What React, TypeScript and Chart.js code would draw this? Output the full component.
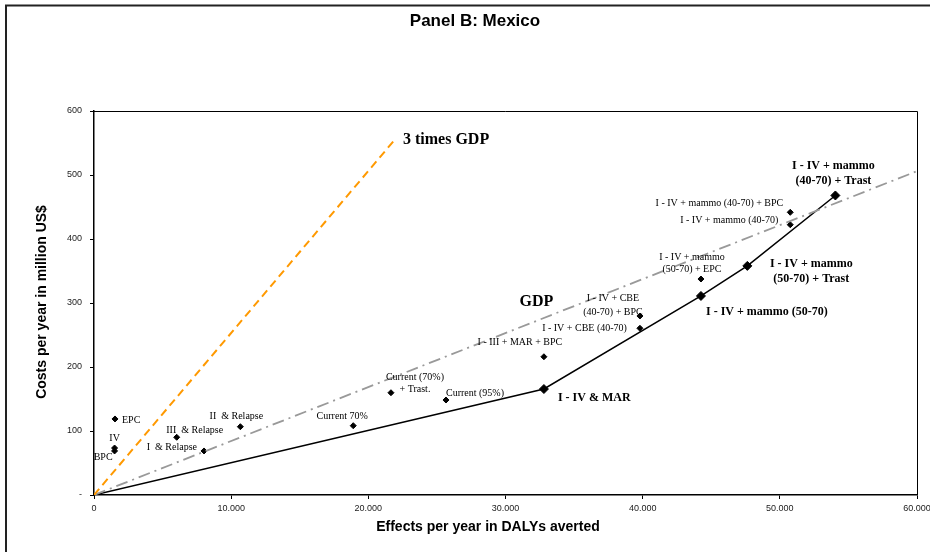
import React, { useEffect, useRef } from "react";
import { Chart, registerables } from "chart.js";

Chart.register(...registerables);

// ---- Data ----
const frontierNames = [
  "Origin",
  "I - IV & MAR",
  "I - IV + mammo (50-70)",
  "I - IV + mammo (50-70) + Trast",
  "I - IV + mammo (40-70) + Trast",
];
const frontierEffects = [0, 32800, 44250, 47630, 54050];
const frontierCosts = [0, 165.6, 311, 358, 468];

const otherNames = [
  "EPC",
  "IV",
  "BPC",
  "III & Relapse",
  "I & Relapse",
  "II & Relapse",
  "Current 70%",
  "Current (70%) + Trast.",
  "Current (95%)",
  "I - III + MAR + BPC",
  "I - IV + CBE (40-70) + BPC",
  "I - IV + CBE (40-70)",
  "I - IV + mammo (50-70) + EPC",
  "I - IV + mammo (40-70)",
  "I - IV + mammo (40-70) + BPC",
];
const otherEffects = [1530, 1500, 1500, 6030, 8020, 10670, 18900, 21650, 25660, 32800, 39800, 39800, 44250, 50760, 50760];
const otherCosts = [118.8, 73.4, 68.8, 90.2, 68.8, 106.7, 108.3, 159.8, 148.4, 216, 279.7, 260.5, 337.5, 422.3, 441.7];

const gdpEffects = [0, 60000];
const gdpCosts = [0, 506];
const gdp3Effects = [0, 22000];
const gdp3Costs = [0, 557];

const yTickValues = [0, 100, 200, 300, 400, 500, 600];
const yTickLabels = ["-", "100", "200", "300", "400", "500", "600"];
const xTickValues = [0, 10000, 20000, 30000, 40000, 50000, 60000];
const xTickLabels = ["0", "10.000", "20.000", "30.000", "40.000", "50.000", "60.000"];

const chartTitle = "Panel B: Mexico";
const xTitle = "Effects per year in DALYs averted";
const yTitle = "Costs per year in million US$";

// ---- Annotation layout (text attached to points, offsets in px) ----
type Lab = {
  set?: "f" | "o";
  i?: number;
  at?: [number, number];
  lines: string[];
  dx: number;
  dy: number;
  align: CanvasTextAlign;
  bold?: boolean;
  size: number;
  lh?: number;
};

const labels: Lab[] = [
  { set: "o", i: 0, lines: ["EPC"], dx: 7, dy: 1, align: "left", size: 10 },
  { set: "o", i: 1, lines: ["IV"], dx: 0, dy: -10, align: "center", size: 10 },
  { set: "o", i: 2, lines: ["BPC"], dx: -2, dy: 6, align: "right", size: 10 },
  { set: "o", i: 3, lines: ["III  & Relapse"], dx: 18, dy: -7, align: "center", size: 10 },
  { set: "o", i: 4, lines: ["I  & Relapse"], dx: -7, dy: -4, align: "right", size: 10 },
  { set: "o", i: 5, lines: ["II  & Relapse"], dx: -4, dy: -10, align: "center", size: 10 },
  { set: "o", i: 6, lines: ["Current 70%"], dx: -11, dy: -9, align: "center", size: 10 },
  { set: "o", i: 7, lines: ["Current (70%)", "+ Trast."], dx: 24, dy: -15, align: "center", size: 10, lh: 12 },
  { set: "o", i: 8, lines: ["Current (95%)"], dx: 0, dy: -7, align: "left", size: 10 },
  { set: "o", i: 9, lines: ["I - III + MAR + BPC"], dx: -24, dy: -14, align: "center", size: 10 },
  { set: "o", i: 10, lines: ["I - IV + CBE", "(40-70) + BPC"], dx: -27, dy: -18, align: "center", size: 10, lh: 14 },
  { set: "o", i: 11, lines: ["I - IV + CBE (40-70)"], dx: -13, dy: 0, align: "right", size: 10 },
  { set: "o", i: 12, lines: ["I - IV + mammo", "(50-70) + EPC"], dx: -9, dy: -22, align: "center", size: 10, lh: 12 },
  { set: "o", i: 13, lines: ["I - IV + mammo (40-70)"], dx: -12, dy: -4, align: "right", size: 10 },
  { set: "o", i: 14, lines: ["I - IV + mammo (40-70) + BPC"], dx: -7, dy: -9, align: "right", size: 10 },
  { set: "f", i: 1, lines: ["I - IV & MAR"], dx: 14, dy: 9, align: "left", size: 12, bold: true },
  { set: "f", i: 2, lines: ["I - IV + mammo (50-70)"], dx: 5, dy: 16, align: "left", size: 12, bold: true },
  { set: "f", i: 3, lines: ["I - IV + mammo", "(50-70) + Trast"], dx: 64, dy: -2, align: "center", size: 12, bold: true, lh: 15 },
  { set: "f", i: 4, lines: ["I - IV + mammo", "(40-70) + Trast"], dx: -2, dy: -30, align: "center", size: 12, bold: true, lh: 15 },
  { at: [32260, 301.6], lines: ["GDP"], dx: 0, dy: 0, align: "center", size: 16, bold: true },
  { at: [22527, 554.7], lines: ["3 times GDP"], dx: 0, dy: 0, align: "left", size: 16, bold: true },
];

const SANS = 'Arial, "Liberation Sans", sans-serif';
const SERIF = '"Times New Roman", "Liberation Serif", serif';

const decorPlugin = {
  id: "decor",
  afterDatasetsDraw(chart: any) {
    const { ctx, scales } = chart;
    const xs = scales.x;
    const ys = scales.y;
    ctx.save();
    ctx.fillStyle = "#000";
    ctx.textBaseline = "middle";
    for (const l of labels) {
      let vx: number, vy: number;
      if (l.at) {
        vx = l.at[0];
        vy = l.at[1];
      } else if (l.set === "f") {
        vx = frontierEffects[l.i!];
        vy = frontierCosts[l.i!];
      } else {
        vx = otherEffects[l.i!];
        vy = otherCosts[l.i!];
      }
      const px = xs.getPixelForValue(vx);
      const py = ys.getPixelForValue(vy);
      ctx.font = `${l.bold ? "bold " : ""}${l.size}px ${SERIF}`;
      ctx.textAlign = l.align;
      const lh = l.lh || l.size * 1.2;
      l.lines.forEach((t, k) => ctx.fillText(t, px + l.dx, py + l.dy + k * lh));
    }
    ctx.restore();
  },
  afterDraw(chart: any) {
    const { ctx, chartArea } = chart;
    ctx.save();
    // plot box (top & right)
    ctx.strokeStyle = "#000";
    ctx.lineWidth = 1;
    ctx.beginPath();
    ctx.moveTo(chartArea.left, chartArea.top + 0.5);
    ctx.lineTo(chartArea.right + 0.5, chartArea.top + 0.5);
    ctx.lineTo(chartArea.right + 0.5, chartArea.bottom);
    ctx.stroke();
    // outer frame
    ctx.strokeStyle = "#222";
    ctx.lineWidth = 2;
    ctx.beginPath();
    ctx.moveTo(6, 560);
    ctx.lineTo(6, 5.5);
    ctx.lineTo(940, 5.5);
    ctx.stroke();
    // titles
    ctx.fillStyle = "#000";
    ctx.textAlign = "center";
    ctx.textBaseline = "middle";
    ctx.font = `bold 17px ${SANS}`;
    ctx.fillText(chartTitle, 475, 21);
    ctx.font = `bold 14px ${SANS}`;
    ctx.fillText(xTitle, 488, 527);
    ctx.translate(42, 302);
    ctx.rotate(-Math.PI / 2);
    ctx.fillText(yTitle, 0, 0);
    ctx.restore();
  },
};

export default function App() {
  const ref = useRef<HTMLCanvasElement | null>(null);
  useEffect(() => {
    if (!ref.current) return;
    const chart = new Chart(ref.current, {
      type: "scatter",
      data: {
        datasets: [
          {
            label: "3 times GDP",
            data: gdp3Effects.map((x, i) => ({ x, y: gdp3Costs[i] })),
            showLine: true,
            borderColor: "#FF9900",
            borderWidth: 2,
            borderDash: [8, 5],
            pointRadius: 0,
          },
          {
            label: "GDP",
            data: gdpEffects.map((x, i) => ({ x, y: gdpCosts[i] })),
            showLine: true,
            borderColor: "#999999",
            borderWidth: 1.8,
            borderDash: [12, 5, 2, 5],
            pointRadius: 0,
          },
          {
            label: "Frontier",
            data: frontierEffects.map((x, i) => ({ x, y: frontierCosts[i] })),
            showLine: true,
            borderColor: "#000",
            borderWidth: 1.5,
            pointStyle: "rectRot",
            pointRadius: frontierEffects.map((x) => (x === 0 ? 0 : 4.5)),
            pointBackgroundColor: "#000",
            pointBorderColor: "#000",
            pointBorderWidth: 1,
          },
          {
            label: "Other",
            data: otherEffects.map((x, i) => ({ x, y: otherCosts[i] })),
            showLine: false,
            pointStyle: "rectRot",
            pointRadius: 3,
            pointBackgroundColor: "#000",
            pointBorderColor: "#000",
            pointBorderWidth: 1,
          },
        ],
      },
      options: {
        animation: false,
        responsive: false,
        layout: { padding: { left: 0, right: 13, top: 111, bottom: 0 } },
        plugins: {
          legend: { display: false },
          title: { display: false },
          tooltip: { enabled: false },
        },
        scales: {
          x: {
            type: "linear",
            min: 0,
            max: 60000,
            afterBuildTicks: (s: any) => {
              s.ticks = xTickValues.map((v) => ({ value: v }));
            },
            ticks: {
              autoSkip: false,
              maxRotation: 0,
              padding: 4,
              color: "#222",
              font: { family: SANS, size: 9 },
              callback: (v: any) => xTickLabels[xTickValues.indexOf(Number(v))] ?? "",
            },
            grid: { drawOnChartArea: false, drawTicks: true, tickLength: 4, color: "#000" },
            border: { display: true, color: "#000", width: 1.5 },
            afterFit: (s: any) => {
              s.height = 57;
              s.paddingLeft = 0;
              s.paddingRight = 0;
            },
          },
          y: {
            type: "linear",
            min: 0,
            max: 600,
            afterBuildTicks: (s: any) => {
              s.ticks = yTickValues.map((v) => ({ value: v }));
            },
            ticks: {
              autoSkip: false,
              padding: 8,
              color: "#222",
              font: { family: SANS, size: 9 },
              callback: (v: any) => yTickLabels[yTickValues.indexOf(Number(v))] ?? "",
            },
            grid: { drawOnChartArea: false, drawTicks: true, tickLength: 4, color: "#000" },
            border: { display: true, color: "#000", width: 1.5 },
            afterFit: (s: any) => {
              s.width = 94;
              s.paddingTop = 0;
              s.paddingBottom = 0;
            },
          },
        },
      },
      plugins: [decorPlugin],
    });
    return () => chart.destroy();
  }, []);
  return (
    <div style={{ position: "absolute", left: 0, top: 0, width: 930, height: 552, background: "#fff" }}>
      <canvas ref={ref} width={930} height={552} style={{ display: "block" }} />
    </div>
  );
}
